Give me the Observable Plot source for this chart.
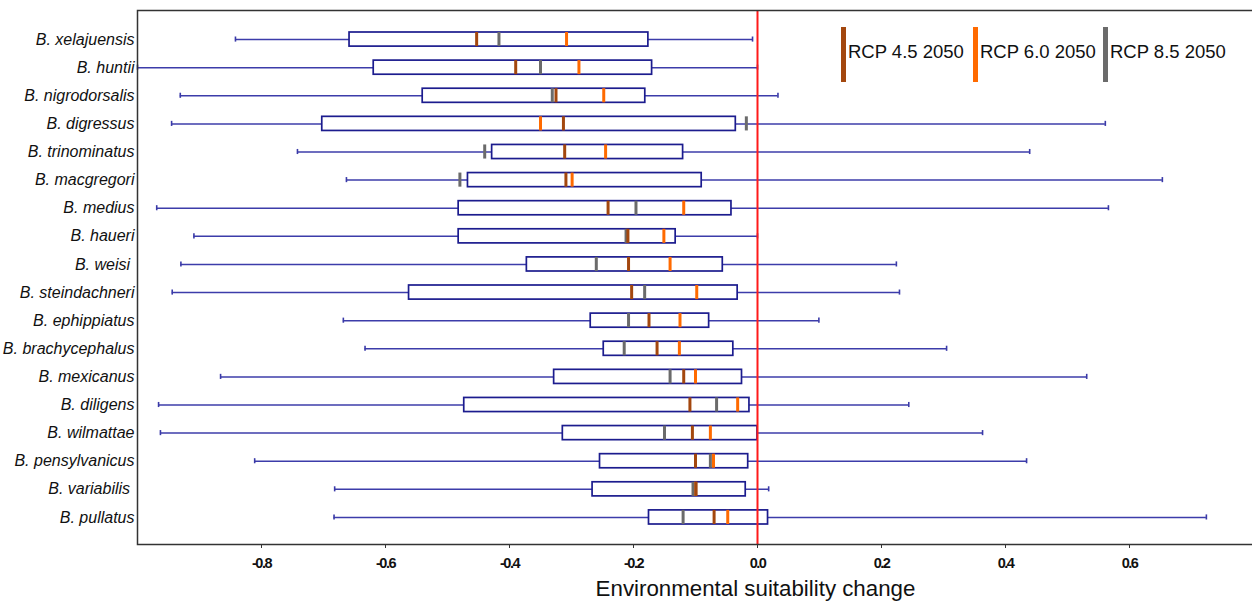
<!DOCTYPE html>
<html>
<head>
<meta charset="utf-8">
<script src="https://cdn.jsdelivr.net/npm/d3@7"></script>
<script src="https://cdn.jsdelivr.net/npm/@observablehq/plot@0.6"></script>
<style>
  html, body { margin: 0; padding: 0; background: #fff; }
  #wrap { position: relative; width: 1252px; height: 601px; font-family: "Liberation Sans", Arial, sans-serif; }
  #wrap svg { font-family: "Liberation Sans", Arial, sans-serif; }
  g[aria-label="y-axis tick label"] text { font-style: italic; font-size: 16px !important; fill: #111; }
  g[aria-label="x-axis tick label"] text { font-weight: bold; font-size: 14.5px !important; letter-spacing: -1.5px; fill: #111; }
  g[aria-label="x-axis label"] text { font-size: 22.3px !important; font-weight: normal; fill: #111; }
  #legend { position: absolute; left: 841px; top: 27px; display: flex; font-size: 18.5px; color: #111; }
  #legend .item { display: flex; align-items: center; }
  #legend .bar { width: 5px; height: 55px; margin-right: 2px; }
  #legend .lab { white-space: pre; position: relative; top: -3px; }
</style>
</head>
<body>
<div id="wrap"></div>
<script>
// Species (top to bottom)
const species = [
  "B. xelajuensis", "B. huntii", "B. nigrodorsalis", "B. digressus", "B. trinominatus",
  "B. macgregori", "B. medius", "B. haueri", "B. weisi ", "B. steindachneri",
  "B. ephippiatus", "B. brachycephalus", "B. mexicanus", "B. diligens", "B. wilmattae",
  "B. pensylvanicus", "B. variabilis ", "B. pullatus"
];
// Whisker ends
const whiskerMin = [-0.842, -1.0, -0.931, -0.945, -0.742, -0.663, -0.969, -0.909, -0.930, -0.944,
                    -0.668, -0.633, -0.866, -0.966, -0.963, -0.811, -0.682, -0.683];
const whiskerMax = [-0.008, 0.0, 0.033, 0.561, 0.439, 0.653, 0.566, 0.0, 0.224, 0.229,
                    0.099, 0.305, 0.531, 0.244, 0.363, 0.434, 0.018, 0.724];
// Box edges
const boxLow  = [-0.658, -0.619, -0.540, -0.702, -0.428, -0.467, -0.482, -0.482, -0.372, -0.562,
                 -0.269, -0.248, -0.328, -0.473, -0.314, -0.254, -0.266, -0.175];
const boxHigh = [-0.176, -0.170, -0.181, -0.035, -0.120, -0.090, -0.042, -0.132, -0.056, -0.032,
                 -0.078, -0.039, -0.025, -0.013, 0.0, -0.015, -0.019, 0.017];
// Scenario values
const rcp45 = [-0.453, -0.390, -0.325, -0.313, -0.311, -0.309, -0.241, -0.209, -0.208, -0.203,
               -0.175, -0.162, -0.119, -0.109, -0.105, -0.100, -0.099, -0.070];
const rcp60 = [-0.308, -0.288, -0.248, -0.350, -0.245, -0.299, -0.119, -0.151, -0.141, -0.098,
               -0.125, -0.126, -0.100, -0.032, -0.076, -0.071, -0.100, -0.048];
const rcp85 = [-0.417, -0.350, -0.331, -0.018, -0.440, -0.480, -0.196, -0.212, -0.260, -0.182,
               -0.208, -0.215, -0.141, -0.066, -0.150, -0.076, -0.104, -0.120];
const scenarios = ["RCP 4.5 2050", "RCP 6.0 2050", "RCP 8.5 2050"];
const scenarioColors = ["#a3470e", "#ff6a00", "#6b6b6b"];
const xTicks = [-0.8, -0.6, -0.4, -0.2, 0.0, 0.2, 0.4, 0.6];
const xLabel = "Environmental suitability change";

const rows = species.map((s, i) => ({
  species: s, min: whiskerMin[i], max: whiskerMax[i], q1: boxLow[i], q3: boxHigh[i]
}));
const scenarioSeries = [rcp60, rcp85, rcp45];
const scenarioOrder = [1, 2, 0];
const marks = [];
scenarioOrder.forEach((si, k) => {
  scenarioSeries[k].forEach((v, i) => marks.push({species: species[i], scenario: scenarios[si], value: v}));
});

const fmt = d => (d < 0 ? "-" : "") + Math.abs(d).toFixed(1);

const chart = Plot.plot({
  width: 1252,
  height: 601,
  marginLeft: 137,
  marginRight: -1,
  marginTop: 10,
  marginBottom: 57,
  style: {overflow: "hidden", background: "white"},
  x: {domain: [-1, 0.8]},
  y: {type: "band", domain: species, padding: 0, round: false, insetTop: 15, insetBottom: 13},
  color: {domain: scenarios, range: scenarioColors},
  marks: [
    Plot.ruleY(rows, {y: "species", x1: "min", x2: "max", stroke: "#3c3caa", strokeWidth: 1.5}),
    Plot.tickX(rows, {x: "min", y: "species", stroke: "#3a3aa8", strokeWidth: 1.6, insetTop: 11.5, insetBottom: 11.5}),
    Plot.tickX(rows, {x: "max", y: "species", stroke: "#3a3aa8", strokeWidth: 1.6, insetTop: 11.5, insetBottom: 11.5}),
    Plot.barX(rows, {x1: "q1", x2: "q3", y: "species", fill: "white", stroke: "#1c1c8e", strokeWidth: 1.7, insetTop: 7, insetBottom: 7}),
    Plot.tickX(marks, {x: "value", y: "species", stroke: "scenario", strokeWidth: 3, insetTop: 7, insetBottom: 7}),
    Plot.ruleX([0], {stroke: "#ff1a1a", strokeWidth: 2}),
    Plot.frame({stroke: "#333", strokeWidth: 1.5}),
    Plot.axisY({tickSize: 0, tickPadding: 3, label: null, fontSize: 16}),
    Plot.axisX({ticks: xTicks, tickFormat: fmt, tickSize: 4, tickPadding: 9, stroke: "#333", fontSize: 14.5,
                label: xLabel, labelAnchor: "center", labelArrow: "none", labelOffset: 51})
  ]
});

// shift the axis title so it is centred as in the original figure
const labelGroup = chart.querySelector('g[aria-label="x-axis label"]');
if (labelGroup) {
  const t = labelGroup.getAttribute("transform") || "";
  labelGroup.setAttribute("transform", (t + " translate(60,0)").trim());
}

const wrap = document.getElementById("wrap");
wrap.appendChild(chart);

const legend = document.createElement("div");
legend.id = "legend";
const itemWidths = [132, 130, 140];
scenarios.forEach((s, i) => {
  const item = document.createElement("div");
  item.className = "item";
  const bar = document.createElement("div");
  bar.className = "bar";
  bar.style.background = scenarioColors[i];
  const lab = document.createElement("span");
  lab.className = "lab";
  lab.textContent = s;
  item.appendChild(bar);
  item.appendChild(lab);
  item.style.width = itemWidths[i] + "px";
  legend.appendChild(item);
});
wrap.appendChild(legend);
</script>
</body>
</html>
